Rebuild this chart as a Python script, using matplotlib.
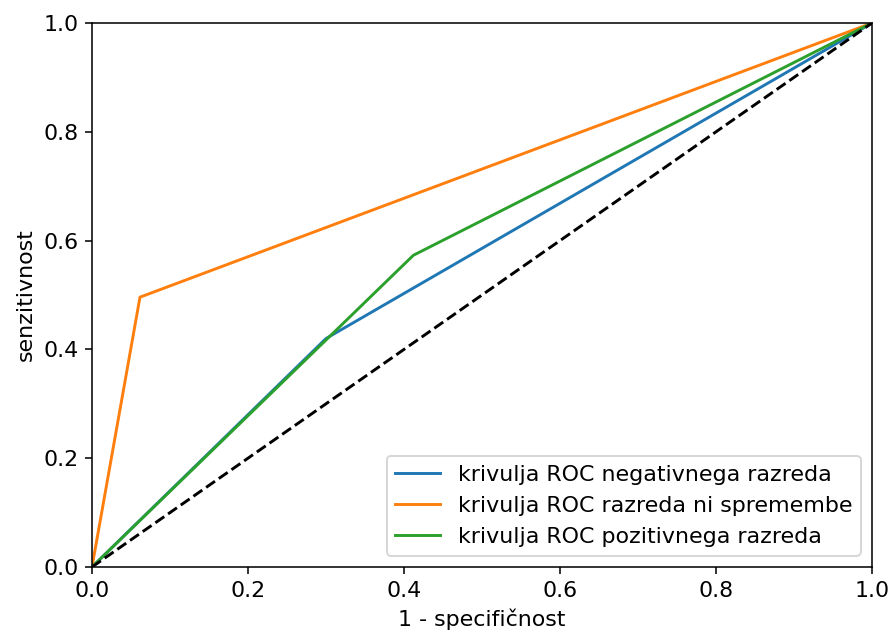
import matplotlib
matplotlib.use('Agg')
import matplotlib.pyplot as plt

# ROC points (fpr, tpr)
fpr_neg = [0.0, 0.30, 1.0]
tpr_neg = [0.0, 0.42, 1.0]
fpr_ns = [0.0, 0.0615, 1.0]
tpr_ns = [0.0, 0.496, 1.0]
fpr_pos = [0.0, 0.412, 1.0]
tpr_pos = [0.0, 0.573, 1.0]

labels = ['krivulja ROC negativnega razreda',
          'krivulja ROC razreda ni spremembe',
          'krivulja ROC pozitivnega razreda']

plt.rcParams['font.size'] = 11.4

fig = plt.figure(figsize=(889 / 140, 633 / 140), dpi=140)
ax = fig.add_axes([92 / 889, 1 - 567 / 633, (872 - 92) / 889, (567 - 23) / 633])
ax.plot(fpr_neg, tpr_neg, label=labels[0])
ax.plot(fpr_ns, tpr_ns, label=labels[1])
ax.plot(fpr_pos, tpr_pos, label=labels[2])
ax.plot([0, 1], [0, 1], 'k--')
ax.set_xlim(0, 1)
ax.set_ylim(0, 1)
ax.set_xlabel('1 - specifičnost')
ax.set_ylabel('senzitivnost')
ax.legend(loc='lower right')
fig.savefig('out.png', dpi=140)
